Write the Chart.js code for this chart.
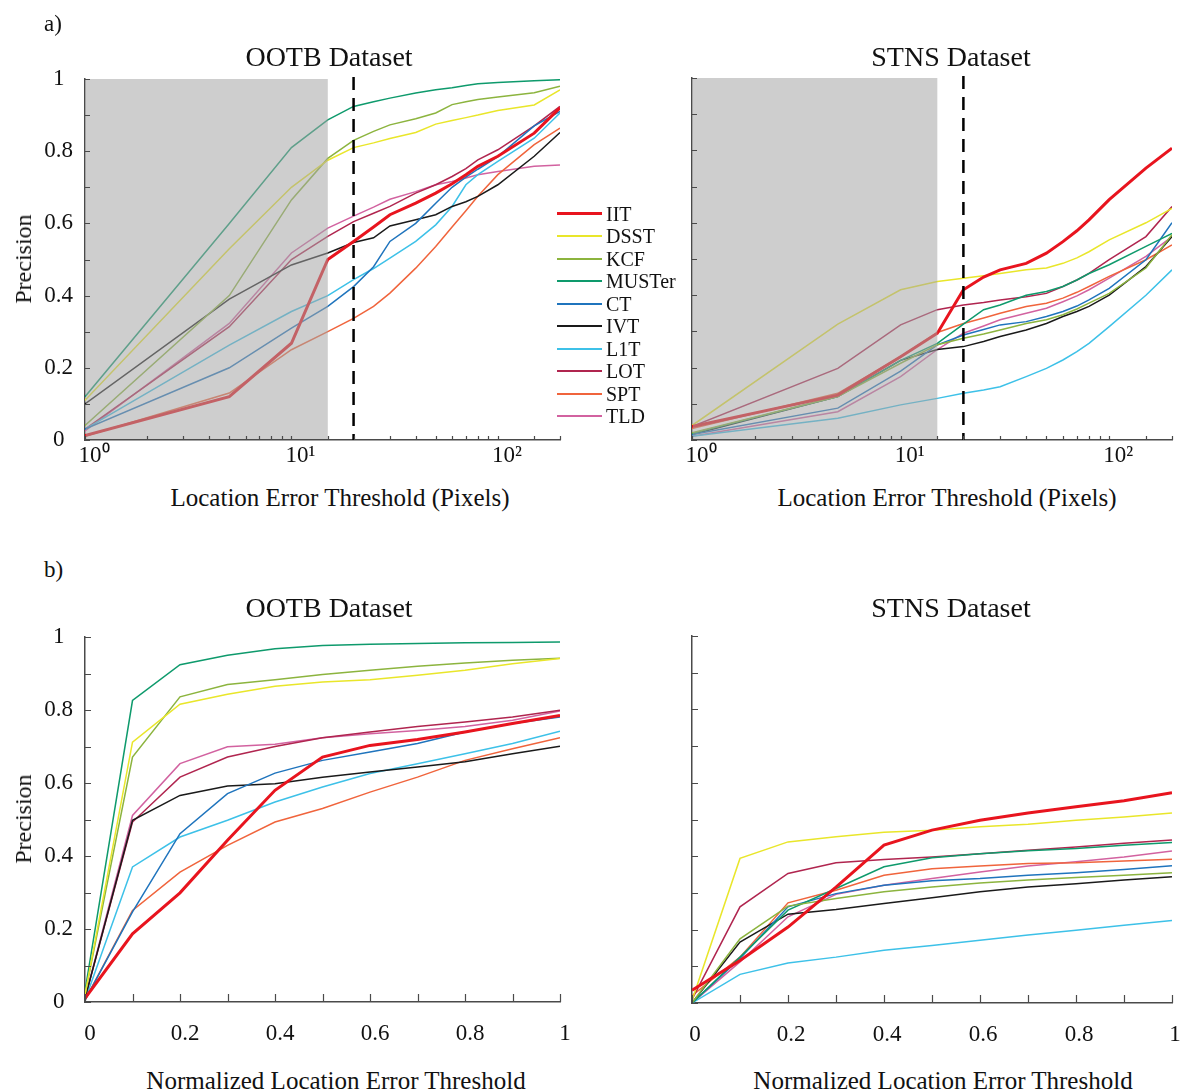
<!DOCTYPE html>
<html>
<head>
<meta charset="utf-8">
<script src="https://cdn.jsdelivr.net/npm/chart.js@4.4.1/dist/chart.umd.min.js"></script>
<style>
  html, body { margin: 0; padding: 0; background: #fff; }
  body { width: 1181px; height: 1090px; position: relative; overflow: hidden;
         font-family: "Liberation Serif", "Times New Roman", serif; color: #111; }
  canvas { position: absolute; }
  .txt { position: absolute; white-space: nowrap; }
</style>
</head>
<body>
<canvas id="ootbPixel" width="600" height="450" style="left:0px;top:30px"></canvas>
<canvas id="stnsPixel" width="580" height="450" style="left:620px;top:30px"></canvas>
<canvas id="ootbNorm" width="600" height="470" style="left:0px;top:590px"></canvas>
<canvas id="stnsNorm" width="580" height="470" style="left:620px;top:590px"></canvas>
<div id="texts"></div>
<script>
// Trackers compared in every panel (legend order)
const trackers = ['IIT', 'DSST', 'KCF', 'MUSTer', 'CT', 'IVT', 'L1T', 'LOT', 'SPT', 'TLD'];
const trackerColors = ['#e8141e', '#e9e62a', '#8cb43e', '#0e9a6c', '#1f74bd', '#1a1a1a',
                       '#3dc1e8', '#b0254f', '#f0643c', '#d262a0'];

// Thresholds on the x axes
const pixelThresholds = [1, 5, 10, 15, 20, 25, 30, 40, 50, 60, 70, 80, 100, 150, 200];
const normThresholds = [0, 0.1, 0.2, 0.3, 0.4, 0.5, 0.6, 0.7, 0.8, 0.9, 1.0];

// Shaded low-threshold band and the reference threshold (pixels)
const shadedBand = [1, 15];
const referenceThreshold = 20;

// Precision vs. location error threshold (pixels), rows follow `trackers`
const ootbPixelPrecision = [
  [0.012, 0.12, 0.268, 0.50, 0.55, 0.59, 0.624, 0.656, 0.684, 0.71, 0.735, 0.758, 0.786, 0.85, 0.92],
  [0.11, 0.53, 0.70, 0.775, 0.81, 0.823, 0.835, 0.852, 0.875, 0.885, 0.893, 0.90, 0.913, 0.928, 0.97],
  [0.04, 0.40, 0.665, 0.78, 0.83, 0.855, 0.873, 0.89, 0.906, 0.929, 0.937, 0.943, 0.95, 0.962, 0.98],
  [0.12, 0.60, 0.81, 0.887, 0.924, 0.937, 0.947, 0.961, 0.97, 0.976, 0.982, 0.987, 0.99, 0.995, 0.998],
  [0.03, 0.20, 0.31, 0.37, 0.425, 0.48, 0.55, 0.60, 0.656, 0.70, 0.728, 0.75, 0.785, 0.87, 0.91],
  [0.10, 0.39, 0.485, 0.518, 0.547, 0.56, 0.593, 0.61, 0.624, 0.647, 0.66, 0.675, 0.707, 0.786, 0.852],
  [0.03, 0.263, 0.356, 0.40, 0.444, 0.475, 0.504, 0.55, 0.596, 0.647, 0.707, 0.735, 0.772, 0.836, 0.906],
  [0.03, 0.314, 0.50, 0.564, 0.605, 0.628, 0.647, 0.684, 0.707, 0.73, 0.752, 0.776, 0.804, 0.87, 0.924],
  [0.01, 0.13, 0.25, 0.30, 0.337, 0.37, 0.407, 0.476, 0.536, 0.59, 0.635, 0.675, 0.735, 0.818, 0.864],
  [0.025, 0.323, 0.518, 0.587, 0.62, 0.645, 0.667, 0.688, 0.707, 0.716, 0.726, 0.735, 0.744, 0.758, 0.762]
];
const stnsPixelPrecision = [
  [0.037, 0.124, 0.23, 0.295, 0.415, 0.45, 0.47, 0.488, 0.516, 0.548, 0.578, 0.608, 0.664, 0.751, 0.806],
  [0.04, 0.32, 0.415, 0.438, 0.447, 0.454, 0.46, 0.47, 0.475, 0.488, 0.503, 0.52, 0.553, 0.60, 0.64],
  [0.02, 0.12, 0.212, 0.263, 0.281, 0.293, 0.304, 0.322, 0.332, 0.346, 0.362, 0.378, 0.405, 0.475, 0.567],
  [0.018, 0.12, 0.22, 0.267, 0.32, 0.36, 0.373, 0.40, 0.41, 0.424, 0.442, 0.46, 0.484, 0.535, 0.571],
  [0.015, 0.088, 0.19, 0.263, 0.29, 0.305, 0.318, 0.327, 0.341, 0.355, 0.37, 0.387, 0.419, 0.498, 0.60],
  [0.015, 0.12, 0.22, 0.25, 0.258, 0.272, 0.286, 0.304, 0.322, 0.341, 0.355, 0.369, 0.40, 0.479, 0.562],
  [0.01, 0.06, 0.097, 0.115, 0.129, 0.138, 0.147, 0.175, 0.198, 0.221, 0.244, 0.267, 0.313, 0.40, 0.47],
  [0.037, 0.198, 0.318, 0.36, 0.373, 0.38, 0.387, 0.396, 0.405, 0.424, 0.442, 0.46, 0.498, 0.562, 0.645],
  [0.032, 0.129, 0.23, 0.297, 0.322, 0.337, 0.35, 0.369, 0.378, 0.392, 0.408, 0.424, 0.452, 0.498, 0.539],
  [0.01, 0.078, 0.175, 0.25, 0.295, 0.315, 0.332, 0.35, 0.364, 0.382, 0.398, 0.415, 0.447, 0.507, 0.562]
];

// Precision vs. normalized location error threshold
const ootbNormPrecision = [
  [0.01, 0.187, 0.299, 0.443, 0.58, 0.671, 0.703, 0.719, 0.74, 0.763, 0.785],
  [0.02, 0.712, 0.816, 0.843, 0.865, 0.877, 0.883, 0.895, 0.909, 0.927, 0.941],
  [0.02, 0.671, 0.836, 0.87, 0.883, 0.897, 0.909, 0.92, 0.929, 0.936, 0.942],
  [0.03, 0.826, 0.924, 0.95, 0.968, 0.977, 0.98, 0.982, 0.984, 0.985, 0.986],
  [0.005, 0.247, 0.461, 0.571, 0.627, 0.662, 0.685, 0.708, 0.74, 0.763, 0.781],
  [0.01, 0.498, 0.566, 0.592, 0.598, 0.616, 0.63, 0.644, 0.658, 0.68, 0.701],
  [0.005, 0.37, 0.452, 0.498, 0.548, 0.589, 0.626, 0.653, 0.68, 0.708, 0.742],
  [0.01, 0.493, 0.616, 0.671, 0.70, 0.724, 0.74, 0.755, 0.767, 0.781, 0.799],
  [0.005, 0.251, 0.356, 0.429, 0.493, 0.53, 0.575, 0.616, 0.662, 0.694, 0.724],
  [0.01, 0.511, 0.653, 0.699, 0.706, 0.724, 0.735, 0.744, 0.755, 0.772, 0.797]
];
const stnsNormPrecision = [
  [0.035, 0.116, 0.207, 0.316, 0.43, 0.471, 0.498, 0.518, 0.535, 0.551, 0.573],
  [0.007, 0.394, 0.439, 0.453, 0.465, 0.471, 0.48, 0.487, 0.498, 0.507, 0.518],
  [0.0, 0.175, 0.264, 0.285, 0.303, 0.316, 0.327, 0.335, 0.342, 0.348, 0.355],
  [0.0, 0.125, 0.253, 0.312, 0.371, 0.396, 0.407, 0.415, 0.421, 0.43, 0.437],
  [0.0, 0.121, 0.262, 0.298, 0.321, 0.333, 0.339, 0.348, 0.355, 0.364, 0.374],
  [0.0, 0.166, 0.242, 0.255, 0.271, 0.287, 0.303, 0.316, 0.325, 0.335, 0.344],
  [0.0, 0.078, 0.109, 0.125, 0.144, 0.157, 0.171, 0.185, 0.198, 0.212, 0.225],
  [0.01, 0.262, 0.353, 0.382, 0.391, 0.398, 0.407, 0.416, 0.425, 0.435, 0.444],
  [0.02, 0.125, 0.273, 0.307, 0.348, 0.366, 0.373, 0.38, 0.382, 0.387, 0.392],
  [0.0, 0.112, 0.235, 0.296, 0.321, 0.339, 0.357, 0.373, 0.385, 0.398, 0.414]
];

const logTickLabels = { 1: '10\u2070', 10: '10\u00B9', 100: '10\u00B2' };

const AXIS_COLOR = '#4a4a4a';
const FONT = '"Liberation Serif", "Times New Roman", serif';

// Shaded band, dashed threshold line and inward tick marks
const panelDecor = {
  id: 'panelDecor',
  afterDatasetsDraw(chart, args, opts) {
    const { ctx, chartArea: a, scales: { x } } = chart;
    if (opts.shade) {
      const x0 = x.getPixelForValue(opts.shade[0]);
      const x1 = x.getPixelForValue(opts.shade[1]);
      ctx.save();
      ctx.fillStyle = 'rgba(165,165,165,0.54)';
      ctx.fillRect(x0 + 1, a.top, x1 - x0 - 1, a.bottom - a.top - 1);
      ctx.restore();
    }
    if (opts.threshold != null) {
      const px = x.getPixelForValue(opts.threshold);
      ctx.save();
      ctx.strokeStyle = '#000';
      ctx.lineWidth = 2.5;
      ctx.setLineDash([13, 8]);
      ctx.beginPath();
      ctx.moveTo(px, a.top - 2);
      ctx.lineTo(px, a.bottom);
      ctx.stroke();
      ctx.restore();
    }
  },
  afterDraw(chart, args, opts) {
    const { ctx, chartArea: a, scales: { x, y } } = chart;
    ctx.save();
    ctx.strokeStyle = AXIS_COLOR;
    ctx.lineWidth = 1.2;
    ctx.beginPath();
    x.ticks.forEach(t => {
      const px = Math.round(x.getPixelForValue(t.value)) + 0.5;
      ctx.moveTo(px, a.bottom);
      ctx.lineTo(px, a.bottom - opts.xTick);
    });
    y.ticks.forEach(t => {
      const py = Math.round(y.getPixelForValue(t.value)) + 0.5;
      ctx.moveTo(a.left, py);
      ctx.lineTo(a.left + opts.yTick, py);
    });
    ctx.stroke();
    ctx.restore();
  }
};

function tenthsLabel(v) {
  const k = Math.round(v * 10);
  if (k % 2 !== 0) return '';
  if (k === 0) return '0';
  if (k === 10) return '1';
  return (k / 10).toString();
}

function makeDatasets(xs, table) {
  return trackers.map((name, i) => ({
    label: name,
    data: xs.map((xv, j) => ({ x: xv, y: table[i][j] })),
    borderColor: trackerColors[i],
    backgroundColor: trackerColors[i],
    borderWidth: name === 'IIT' ? 3 : 1.5,
    pointRadius: 0,
    tension: 0,
    fill: false
  }));
}

function makeChart(id, cfg) {
  const el = document.getElementById(id);
  const xScale = cfg.log
    ? { type: 'logarithmic', min: 1, max: 200 }
    : { type: 'linear', min: 0, max: 1 };
  Object.assign(xScale, {
    grid: { display: false, drawTicks: false },
    border: { display: true, color: AXIS_COLOR, width: 1.5 },
    ticks: {
      autoSkip: false, maxRotation: 0, minRotation: 0,
      padding: cfg.xLabelPad, labelOffset: cfg.xLabelOffset,
      color: '#111', font: { family: FONT, size: 23 },
      callback: cfg.log ? (v) => (logTickLabels[v] || '') : tenthsLabel
    },
    afterFit(s) { s.height = cfg.xHeight; }
  });
  if (!cfg.log) xScale.ticks.stepSize = 0.1;

  return new Chart(el, {
    type: 'line',
    data: { datasets: makeDatasets(cfg.xs, cfg.table) },
    options: {
      responsive: false,
      animation: false,
      devicePixelRatio: 1,
      events: [],
      layout: { padding: { top: cfg.padTop, right: cfg.padRight, left: 0, bottom: 0 } },
      plugins: {
        legend: { display: false },
        tooltip: { enabled: false },
        title: { display: false },
        panelDecor: { shade: cfg.shade, threshold: cfg.threshold, xTick: cfg.xTick, yTick: cfg.yTick }
      },
      scales: {
        x: xScale,
        y: {
          type: 'linear', min: 0, max: 1,
          grid: { display: false, drawTicks: false },
          border: { display: true, color: AXIS_COLOR, width: 1.5 },
          ticks: {
            display: cfg.yLabels, stepSize: 0.1, crossAlign: 'center', padding: 12,
            color: '#111', font: { family: FONT, size: 23 },
            callback: tenthsLabel
          },
          afterFit(s) { s.width = cfg.yWidth; }
        }
      }
    },
    plugins: [panelDecor]
  });
}

makeChart('ootbPixel', { log: true, xs: pixelThresholds, table: ootbPixelPrecision,
  shade: shadedBand, threshold: referenceThreshold, yLabels: true,
  yWidth: 85, xHeight: 40, padTop: 49, padRight: 40, xLabelPad: 2, xLabelOffset: 9, xTick: 4, yTick: 5 });
makeChart('stnsPixel', { log: true, xs: pixelThresholds, table: stnsPixelPrecision,
  shade: shadedBand, threshold: referenceThreshold, yLabels: false,
  yWidth: 72, xHeight: 40, padTop: 48, padRight: 28, xLabelPad: 2, xLabelOffset: 9, xTick: 4, yTick: 5 });
makeChart('ootbNorm', { log: false, xs: normThresholds, table: ootbNormPrecision,
  shade: null, threshold: null, yLabels: true,
  yWidth: 85, xHeight: 58, padTop: 47, padRight: 40, xLabelPad: 18, xLabelOffset: 5, xTick: 8, yTick: 6 });
makeChart('stnsNorm', { log: false, xs: normThresholds, table: stnsNormPrecision,
  shade: null, threshold: null, yLabels: false,
  yWidth: 72, xHeight: 57, padTop: 46, padRight: 28, xLabelPad: 18, xLabelOffset: 3, xTick: 8, yTick: 6 });

// Text around the panels
const textLayer = document.getElementById('texts');
function addText(str, cx, cy, size, align) {
  const d = document.createElement('div');
  d.className = 'txt';
  d.textContent = str;
  d.style.fontSize = size + 'px';
  d.style.lineHeight = size + 'px';
  d.style.left = cx + 'px';
  if (align === 'rotate') {
    d.style.top = cy + 'px';
    d.style.transform = 'translate(-50%, -50%) rotate(-90deg)';
  } else {
    d.style.top = (cy - size / 2) + 'px';
    if (align !== 'left') d.style.transform = 'translateX(-50%)';
  }
  textLayer.appendChild(d);
  return d;
}

addText('a)', 44, 23, 23, 'left');
addText('b)', 44, 569, 23, 'left');
addText('OOTB Dataset', 329, 57, 28);
addText('STNS Dataset', 951, 57, 28);
addText('OOTB Dataset', 329, 608, 28);
addText('STNS Dataset', 951, 608, 28);
addText('Location Error Threshold (Pixels)', 340, 497, 25);
addText('Location Error Threshold (Pixels)', 947, 497, 25);
addText('Normalized Location Error Threshold', 336, 1080, 25);
addText('Normalized Location Error Threshold', 943, 1080, 25);
addText('Precision', 23, 259, 24, 'rotate');
addText('Precision', 23, 819, 24, 'rotate');

// Legend for the tracker lines
trackers.forEach((name, i) => {
  const cy = 213.5 + i * 22.5;
  const line = document.createElement('div');
  line.style.position = 'absolute';
  line.style.left = '557px';
  line.style.width = '45px';
  const w = name === 'IIT' ? 3 : 2;
  line.style.height = w + 'px';
  line.style.top = (cy - w / 2) + 'px';
  line.style.background = trackerColors[i];
  textLayer.appendChild(line);
  addText(name, 606, cy, 20, 'left');
});
</script>
</body>
</html>
